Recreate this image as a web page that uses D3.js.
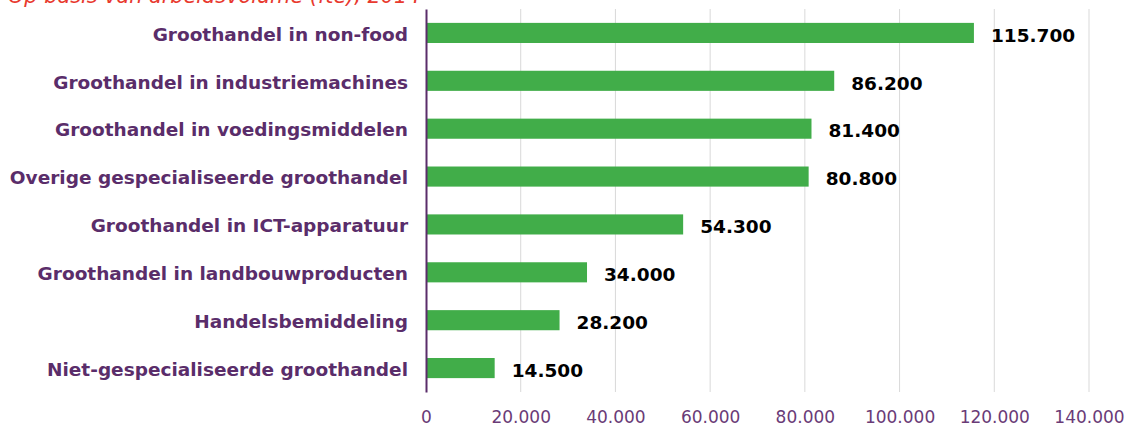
<!DOCTYPE html>
<html>
<head>
<meta charset="utf-8">
<script src="https://cdn.jsdelivr.net/npm/d3@7"></script>
<style>
  body { margin: 0; background: #fff; }
</style>
</head>
<body>
<svg width="1137" height="427"></svg>
<script>
const categories = [
  "Groothandel in non-food",
  "Groothandel in industriemachines",
  "Groothandel in voedingsmiddelen",
  "Overige gespecialiseerde groothandel",
  "Groothandel in ICT-apparatuur",
  "Groothandel in landbouwproducten",
  "Handelsbemiddeling",
  "Niet-gespecialiseerde groothandel"
];
const values = [115700, 86200, 81400, 80800, 54300, 34000, 28200, 14500];
const ticks = [0, 20000, 40000, 60000, 80000, 100000, 120000, 140000];
const title = "Op basis van arbeidsvolume (fte), 2014";

const svg = d3.select("svg");

const margin = { top: 9, right: 48, bottom: 35, left: 426 };
const width = +svg.attr("width");
const height = +svg.attr("height");
const innerHeight = height - margin.top - margin.bottom;

const fmt = d3.formatLocale({ decimal: ",", thousands: ".", grouping: [3] }).format(",");

const data = categories.map((c, i) => ({ category: c, value: values[i] }));

const xScale = d3.scaleLinear()
  .domain([0, 140000])
  .range([0, 663]);

const yScale = d3.scaleBand()
  .domain(categories)
  .range([0, innerHeight])
  .paddingInner(0.58)
  .paddingOuter(0.29);

const g = svg.append("g")
  .attr("transform", `translate(${margin.left}, ${margin.top})`);

// title, mostly cut off at the top
svg.append("text")
  .attr("x", 8)
  .attr("y", 3)
  .attr("fill", "#e8392e")
  .attr("font-family", "DejaVu Sans, Verdana, sans-serif")
  .attr("font-style", "italic")
  .attr("font-size", 20.8)
  .text(title);

// gridlines
g.selectAll("line.grid").data(ticks.slice(1))
  .enter().append("line")
    .attr("class", "grid")
    .attr("x1", d => xScale(d))
    .attr("x2", d => xScale(d))
    .attr("y1", 0)
    .attr("y2", innerHeight)
    .attr("stroke", "#d9d9d9")
    .attr("stroke-width", 1);

// x axis labels
const xAxis = d3.axisBottom(xScale)
  .tickValues(ticks)
  .tickFormat(fmt)
  .tickSize(0)
  .tickPadding(19);

const xAxisG = g.append("g")
  .attr("transform", `translate(0, ${innerHeight})`)
  .call(xAxis);
xAxisG.select(".domain").remove();
xAxisG.selectAll("text")
  .attr("fill", "#6a3b77")
  .attr("font-family", "DejaVu Sans, Verdana, sans-serif")
  .attr("font-size", 17);

// bars
g.selectAll("rect.bar").data(data)
  .enter().append("rect")
    .attr("class", "bar")
    .attr("x", 0)
    .attr("y", d => yScale(d.category))
    .attr("width", d => xScale(d.value))
    .attr("height", yScale.bandwidth())
    .attr("fill", "#41ad49");

// value labels
g.selectAll("text.value").data(data)
  .enter().append("text")
    .attr("class", "value")
    .attr("x", d => xScale(d.value) + 17)
    .attr("y", d => yScale(d.category) + yScale.bandwidth() / 2)
    .attr("dy", "0.47em")
    .attr("fill", "#000")
    .attr("font-family", "DejaVu Sans, Verdana, sans-serif")
    .attr("font-weight", "bold")
    .attr("font-size", 18.5)
    .text(d => fmt(d.value));

// y axis
const yAxis = d3.axisLeft(yScale)
  .tickSize(0)
  .tickPadding(18);

const yAxisG = g.append("g").call(yAxis);
yAxisG.select(".domain")
  .attr("stroke", "#5a2d6a")
  .attr("stroke-width", 2);
yAxisG.selectAll("text")
  .attr("dy", "0.42em")
  .attr("fill", "#5a2d6a")
  .attr("font-family", "DejaVu Sans, Verdana, sans-serif")
  .attr("font-weight", "bold")
  .attr("font-size", 18.5);
</script>
</body>
</html>
